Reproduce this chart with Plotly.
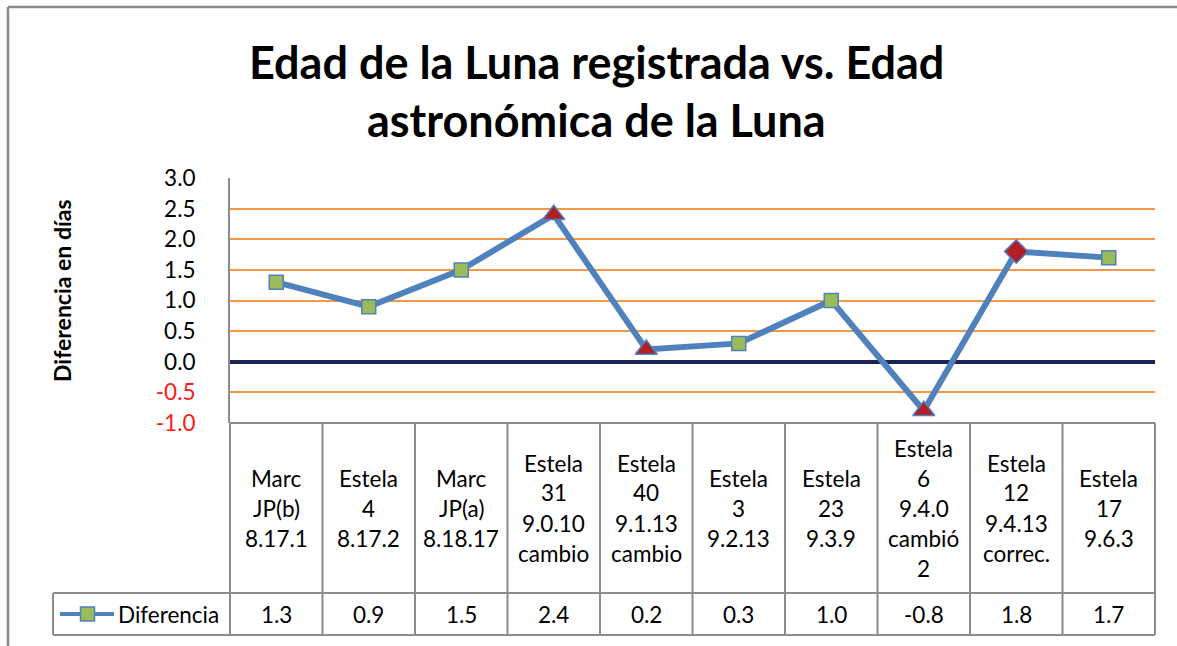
import plotly.graph_objects as go

# Data
categories = [
    "Marc<br>JP(b)<br>8.17.1",
    "Estela<br>4<br>8.17.2",
    "Marc<br>JP(a)<br>8.18.17",
    "Estela<br>31<br>9.0.10<br>cambio",
    "Estela<br>40<br>9.1.13<br>cambio",
    "Estela<br>3<br>9.2.13",
    "Estela<br>23<br>9.3.9",
    "Estela<br>6<br>9.4.0<br>cambió<br>2",
    "Estela<br>12<br>9.4.13<br>correc.",
    "Estela<br>17<br>9.6.3",
]
diferencia = [1.3, 0.9, 1.5, 2.4, 0.2, 0.3, 1.0, -0.8, 1.8, 1.7]
marker_kind = ["square", "square", "square", "triangle-up", "triangle-up",
               "square", "square", "triangle-up", "diamond", "square"]
tick_vals = [3.0, 2.5, 2.0, 1.5, 1.0, 0.5, 0.0, -0.5, -1.0]

series_name = "Diferencia"
title_lines = ["Edad de la Luna registrada vs. Edad", "astronómica de la Luna"]
y_title = "Diferencia en días"

# Styles
W, H = 1177, 646
L, R, T, B = 230, 22, 178, 223
FONT = "Lato"
LINE_BLUE = "#4F81BD"
GREEN = "#9BBB59"
RED = "#B21E26"
ORANGE = "#F79646"
NAVY = "#1C2456"
GRID_GRAY = "#8C8C8C"
TXT = 22.5

plot_h = H - T - B
plot_w = W - L - R


def py(ypx):
    """Pixel row -> paper y."""
    return (H - B - ypx) / plot_h


def px(xpx):
    """Pixel column -> paper x."""
    return (xpx - L) / plot_w


size_of = {"square": 14, "triangle-up": 19, "diamond": 18}
sizes = [size_of[k] for k in marker_kind]
colors = [GREEN if k == "square" else RED for k in marker_kind]

fig = go.Figure()
fig.add_trace(go.Scatter(
    x=categories, y=diferencia, mode="lines+markers", name=series_name,
    line=dict(color=LINE_BLUE, width=6),
    marker=dict(symbol=marker_kind, size=sizes, color=colors, opacity=1,
                line=dict(color=LINE_BLUE, width=1.5)),
    opacity=1, showlegend=False, cliponaxis=False,
))


def fmt_tick(v):
    s = f"{v:.1f}"
    return f"<span style='color:#FF1A1A'>{s}</span>" if v < 0 else s


fig.update_layout(
    width=W, height=H,
    margin=dict(l=L, r=R, t=T, b=B),
    paper_bgcolor="white", plot_bgcolor="white",
    font=dict(family=FONT, color="black"),
    xaxis=dict(showticklabels=False, showgrid=False, zeroline=False,
               showline=False, range=[-0.5, len(categories) - 0.5]),
    yaxis=dict(range=[-1, 3], tickvals=tick_vals,
               ticktext=[fmt_tick(v) for v in tick_vals],
               tickfont=dict(size=TXT, family=FONT, color="black"),
               showgrid=True, gridcolor=ORANGE, gridwidth=2,
               zeroline=True, zerolinecolor=NAVY, zerolinewidth=4,
               showline=True, linecolor=GRID_GRAY, linewidth=2,
               ticks="", ticklabelstandoff=28),
)

shapes = []
# outer chart frame
shapes.append(dict(type="line", xref="paper", yref="paper",
                   x0=px(8), x1=px(W + 5), y0=py(7), y1=py(7),
                   line=dict(color="#8A8A8A", width=2.5)))
shapes.append(dict(type="line", xref="paper", yref="paper",
                   x0=px(8), x1=px(8), y0=py(7), y1=py(H + 5),
                   line=dict(color="#8A8A8A", width=2.5)))

# data table grid
row1_bottom = py(593)
row2_bottom = py(635)
n = len(categories)
tbl = dict(color=GRID_GRAY, width=2)
shapes.append(dict(type="line", xref="x domain", yref="paper",
                   x0=0, x1=1, y0=0, y1=0, line=tbl))
shapes.append(dict(type="line", xref="paper", yref="paper",
                   x0=px(53), x1=1, y0=row1_bottom, y1=row1_bottom, line=tbl))
shapes.append(dict(type="line", xref="paper", yref="paper",
                   x0=px(53), x1=1, y0=row2_bottom, y1=row2_bottom, line=tbl))
shapes.append(dict(type="line", xref="paper", yref="paper",
                   x0=px(53), x1=px(53), y0=row1_bottom, y1=row2_bottom, line=tbl))
for i in range(n + 1):
    shapes.append(dict(type="line", xref="x domain", yref="paper",
                       x0=i / n, x1=i / n, y0=0, y1=row2_bottom, line=tbl))

# legend key inside the table
key_y = py(614)
shapes.append(dict(type="line", xref="paper", yref="paper",
                   x0=px(60), x1=px(114), y0=key_y, y1=key_y,
                   line=dict(color=LINE_BLUE, width=4)))
shapes.append(dict(type="rect", xref="paper", yref="paper",
                   x0=px(80.5), x1=px(94.5), y0=py(621), y1=py(607),
                   fillcolor=GREEN, line=dict(color=LINE_BLUE, width=1.5)))
fig.update_layout(shapes=shapes)

ann = []
# title
for k, t in enumerate(title_lines):
    ann.append(dict(text=f"<b>{t}</b>", xref="paper", yref="paper",
                    x=px(596), y=py(62 + 58 * k), xanchor="center",
                    yanchor="middle", showarrow=False,
                    font=dict(size=45, family=FONT, color="black")))
# y-axis title
ann.append(dict(text=f"<b>{y_title}</b>", xref="paper", yref="paper",
                x=px(62), y=py(291), textangle=-90, xanchor="center",
                yanchor="middle", showarrow=False,
                font=dict(size=23, family=FONT, color="black")))
# category header cells
for cat in categories:
    lines = cat.split("<br>")
    m = len(lines)
    for k, ln in enumerate(lines):
        ann.append(dict(text=ln, xref="x", yref="paper", x=cat,
                        y=py(508 + (k - (m - 1) / 2) * 30),
                        xanchor="center", yanchor="middle", showarrow=False,
                        font=dict(size=TXT, family=FONT, color="black")))
# value cells
for cat, v in zip(categories, diferencia):
    ann.append(dict(text=f"{v:.1f}", xref="x", yref="paper", x=cat,
                    y=key_y, xanchor="center", yanchor="middle",
                    showarrow=False,
                    font=dict(size=TXT, family=FONT, color="black")))
# legend label
ann.append(dict(text=series_name, xref="paper", yref="paper", x=px(116),
                y=key_y, xanchor="left", yanchor="middle", showarrow=False,
                font=dict(size=TXT, family=FONT, color="black")))
fig.update_layout(annotations=ann)

fig.write_html("out.html")
